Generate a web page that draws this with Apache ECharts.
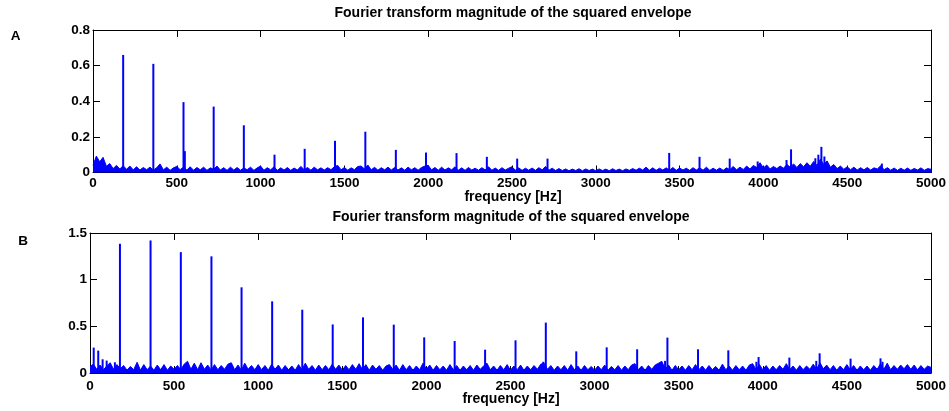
<!DOCTYPE html>
<html>
<head>
<meta charset="utf-8">
<script src="https://cdn.jsdelivr.net/npm/echarts@6/dist/echarts.min.js"></script>
<style>
html,body{margin:0;padding:0;background:#fff;}
#chart{width:949px;height:411px;}
</style>
</head>
<body>
<div id="chart"></div>
<script>
// ---------------- DATA ----------------
const panelLetters = ['A', 'B'];
const panelTitle = 'Fourier transform magnitude of the squared envelope';
const xAxisTitle = 'frequency [Hz]';
const xMin = 0, xMax = 5000, xStep = 500;
const yMaxA = 0.8, yStepA = 0.2;
const yMaxB = 1.5, yStepB = 0.5;

// noise floor, one value every 20 Hz from 0 to 5000 Hz
const noiseStepHz = 20;
const noiseA = [
  0.040, 0.092, 0.060, 0.085, 0.035, 0.050, 0.022, 0.040, 0.020, 0.038,
  0.018, 0.036, 0.015, 0.032, 0.014, 0.028, 0.016, 0.030, 0.013, 0.027,
  0.048, 0.015, 0.030, 0.012, 0.026, 0.034, 0.016, 0.030, 0.014, 0.032,
  0.013, 0.028, 0.015, 0.030, 0.012, 0.026, 0.018, 0.036, 0.014, 0.027,
  0.012, 0.030, 0.014, 0.028, 0.013, 0.025, 0.016, 0.030, 0.012, 0.026,
  0.036, 0.013, 0.027, 0.015, 0.032, 0.012, 0.026, 0.014, 0.028, 0.012,
  0.025, 0.014, 0.034, 0.016, 0.028, 0.013, 0.030, 0.015, 0.026, 0.014,
  0.027, 0.016, 0.032, 0.040, 0.015, 0.028, 0.013, 0.026, 0.016, 0.034,
  0.036, 0.020, 0.042, 0.015, 0.029, 0.013, 0.027, 0.015, 0.030, 0.014,
  0.028, 0.014, 0.026, 0.013, 0.030, 0.015, 0.027, 0.013, 0.028, 0.036,
  0.040, 0.015, 0.028, 0.013, 0.030, 0.014, 0.026, 0.015, 0.032, 0.013,
  0.026, 0.012, 0.028, 0.014, 0.024, 0.013, 0.027, 0.015, 0.032, 0.013,
  0.025, 0.012, 0.027, 0.014, 0.024, 0.032, 0.013, 0.026, 0.012, 0.024,
  0.013, 0.025, 0.012, 0.027, 0.015, 0.034, 0.013, 0.024, 0.011, 0.022,
  0.011, 0.020, 0.010, 0.019, 0.011, 0.021, 0.010, 0.020, 0.011, 0.019,
  0.010, 0.020, 0.011, 0.019, 0.010, 0.021, 0.011, 0.019, 0.010, 0.020,
  0.012, 0.022, 0.013, 0.024, 0.014, 0.030, 0.013, 0.026, 0.012, 0.024,
  0.014, 0.026, 0.013, 0.028, 0.012, 0.025, 0.014, 0.024, 0.012, 0.027,
  0.014, 0.026, 0.013, 0.030, 0.012, 0.024, 0.013, 0.025, 0.012, 0.026,
  0.016, 0.034, 0.015, 0.030, 0.017, 0.036, 0.020, 0.040, 0.028, 0.055,
  0.025, 0.042, 0.020, 0.034, 0.022, 0.036, 0.024, 0.045, 0.030, 0.048,
  0.028, 0.050, 0.032, 0.055, 0.035, 0.062, 0.040, 0.075, 0.045, 0.065,
  0.030, 0.045, 0.022, 0.036, 0.018, 0.032, 0.016, 0.030, 0.014, 0.027,
  0.015, 0.028, 0.014, 0.026, 0.020, 0.038, 0.016, 0.027, 0.013, 0.025,
  0.012, 0.024, 0.013, 0.025, 0.012, 0.023, 0.014, 0.026, 0.012, 0.022,
  0.018
];
const noiseB = [
  0.070, 0.095, 0.040, 0.085, 0.035, 0.075, 0.110, 0.040, 0.090, 0.045,
  0.080, 0.030, 0.070, 0.035, 0.115, 0.030, 0.090, 0.035, 0.075, 0.030,
  0.085, 0.035, 0.090, 0.030, 0.075, 0.040, 0.080, 0.035, 0.095, 0.125,
  0.040, 0.105, 0.035, 0.110, 0.040, 0.085, 0.030, 0.090, 0.035, 0.080,
  0.040, 0.095, 0.110, 0.035, 0.085, 0.030, 0.105, 0.040, 0.080, 0.035,
  0.090, 0.035, 0.080, 0.030, 0.095, 0.040, 0.085, 0.030, 0.080, 0.035,
  0.075, 0.030, 0.090, 0.035, 0.105, 0.040, 0.080, 0.030, 0.085, 0.035,
  0.080, 0.035, 0.095, 0.040, 0.085, 0.030, 0.080, 0.035, 0.090, 0.040,
  0.100, 0.035, 0.090, 0.030, 0.085, 0.040, 0.080, 0.030, 0.075, 0.090,
  0.040, 0.085, 0.030, 0.090, 0.035, 0.080, 0.030, 0.075, 0.035, 0.105,
  0.040, 0.085, 0.030, 0.080, 0.035, 0.075, 0.030, 0.090, 0.035, 0.080,
  0.030, 0.075, 0.035, 0.080, 0.030, 0.085, 0.040, 0.075, 0.105, 0.035,
  0.075, 0.030, 0.080, 0.035, 0.090, 0.030, 0.075, 0.035, 0.085, 0.030,
  0.075, 0.035, 0.080, 0.040, 0.095, 0.105, 0.040, 0.080, 0.030, 0.075,
  0.035, 0.080, 0.030, 0.090, 0.035, 0.075, 0.030, 0.080, 0.035, 0.070,
  0.030, 0.075, 0.035, 0.085, 0.030, 0.070, 0.035, 0.080, 0.030, 0.075,
  0.035, 0.085, 0.100, 0.035, 0.075, 0.030, 0.080, 0.040, 0.085, 0.105,
  0.125, 0.040, 0.085, 0.030, 0.080, 0.035, 0.075, 0.030, 0.080, 0.035,
  0.090, 0.035, 0.075, 0.030, 0.080, 0.035, 0.070, 0.030, 0.095, 0.035,
  0.075, 0.030, 0.080, 0.035, 0.075, 0.030, 0.085, 0.100, 0.035, 0.090,
  0.035, 0.080, 0.030, 0.075, 0.035, 0.080, 0.040, 0.100, 0.035, 0.075,
  0.030, 0.080, 0.035, 0.075, 0.040, 0.095, 0.040, 0.110, 0.045, 0.085,
  0.035, 0.080, 0.030, 0.075, 0.035, 0.090, 0.035, 0.080, 0.030, 0.075,
  0.035, 0.075, 0.030, 0.080, 0.040, 0.100, 0.040, 0.105, 0.035, 0.080,
  0.040, 0.085, 0.045, 0.090, 0.040, 0.085, 0.035, 0.080, 0.040, 0.075,
  0.060
];

// discrete spectral lines (Hz, magnitude)
const peakFreqA = [180, 360, 540, 548, 720, 900, 1083, 1263, 1444, 1625, 1807, 1987, 2169, 2350, 2531, 2712,
                   3438, 3619, 3799, 3966, 4138, 4165, 4310, 4328, 4346, 4364, 4707];
const peakAmpA  = [0.66, 0.61, 0.395, 0.12, 0.37, 0.265, 0.10, 0.133, 0.178, 0.229, 0.127, 0.112, 0.109, 0.088, 0.078, 0.078,
                   0.11, 0.088, 0.078, 0.062, 0.07, 0.13, 0.08, 0.10, 0.144, 0.09, 0.05];
const peakFreqB = [22, 49, 75, 99, 148, 178, 360, 540, 722, 901, 1083, 1262, 1443, 1623, 1806, 1987, 2168, 2349, 2530,
                   2695, 2710, 2891, 3072, 3253, 3419, 3433, 3615, 3795, 3962, 3975, 4158, 4318, 4338, 4522, 4700, 4712];
const peakAmpB  = [0.272, 0.24, 0.147, 0.133, 0.115, 1.385, 1.42, 1.295, 1.25, 0.918, 0.768, 0.678, 0.52, 0.596, 0.518, 0.382, 0.343, 0.25, 0.35,
                   0.12, 0.54, 0.232, 0.275, 0.254, 0.13, 0.379, 0.254, 0.243, 0.12, 0.171, 0.165, 0.13, 0.211, 0.154, 0.157, 0.12];

// ---------------- CHART ----------------
const FONT = '"Liberation Sans", Arial, Helvetica, sans-serif';
const BLUE = '#0000ff';
const chart = echarts.init(document.getElementById('chart'), null, {renderer: 'canvas'});

const noiseData = arr => arr.map((v, i) => [i * noiseStepHz, v]);
const peakData = (fs, as) => fs.map((f, i) => [f, as[i]]);

const grids = [
  {left: 93, right: 16, top: 30, height: 142.5},
  {left: 90, right: 16, top: 233, height: 140}
];

function xAxes(gi, margin) {
  const common = {
    type: 'value', gridIndex: gi, min: xMin, max: xMax, interval: xStep,
    axisLine: {show: true, onZero: false, lineStyle: {color: '#000', width: 1}},
    axisTick: {show: true, inside: true, length: 7, lineStyle: {color: '#000', width: 1}},
    splitLine: {show: false}
  };
  return [
    Object.assign({}, common, {position: 'bottom',
      axisLabel: {show: true, margin: margin, color: '#000', fontWeight: 'bold', fontSize: 13.5, fontFamily: FONT,
                  showMinLabel: true, showMaxLabel: true, formatter: v => String(v)}}),
    Object.assign({}, common, {position: 'top', axisLabel: {show: false}})
  ];
}
function yAxes(gi, max, step) {
  const common = {
    type: 'value', gridIndex: gi, min: 0, max: max, interval: step,
    axisLine: {show: true, onZero: false, lineStyle: {color: '#000', width: 1}},
    axisTick: {show: true, inside: true, length: 7, lineStyle: {color: '#000', width: 1}},
    splitLine: {show: false}
  };
  return [
    Object.assign({}, common, {position: 'left',
      axisLabel: {show: true, margin: 3, color: '#000', fontWeight: 'bold', fontSize: 13.5, fontFamily: FONT,
                  formatter: v => String(v)}}),
    Object.assign({}, common, {position: 'right', axisLabel: {show: false}})
  ];
}

function textEl(x, y, txt, size) {
  return {
    type: 'text', x: x, y: y, silent: true,
    style: {text: txt, fill: '#000', font: 'bold ' + size + 'px ' + FONT,
            align: 'center', verticalAlign: 'middle', textAlign: 'center', textVerticalAlign: 'middle'}
  };
}

const option = {
  animation: false,
  backgroundColor: '#fff',
  grid: grids,
  xAxis: [].concat(xAxes(0, 4), xAxes(1, 6)),
  yAxis: [].concat(yAxes(0, yMaxA, yStepA), yAxes(1, yMaxB, yStepB)),
  graphic: [
    textEl(513, 13.4, panelTitle, 14),
    textEl(513, 197, xAxisTitle, 14),
    textEl(15.5, 36, panelLetters[0], 13.5),
    textEl(511, 216.8, panelTitle, 14),
    textEl(511, 399.5, xAxisTitle, 14),
    textEl(23, 241.3, panelLetters[1], 13.5)
  ],
  series: [
    {type: 'line', xAxisIndex: 0, yAxisIndex: 0, data: noiseData(noiseA), showSymbol: false, symbol: 'none',
     lineStyle: {color: BLUE, width: 1}, areaStyle: {color: BLUE, opacity: 1}, silent: true},
    {type: 'bar', xAxisIndex: 0, yAxisIndex: 0, data: peakData(peakFreqA, peakAmpA), barWidth: 2,
     itemStyle: {color: BLUE}, silent: true},
    {type: 'line', xAxisIndex: 2, yAxisIndex: 2, data: noiseData(noiseB), showSymbol: false, symbol: 'none',
     lineStyle: {color: BLUE, width: 1}, areaStyle: {color: BLUE, opacity: 1}, silent: true},
    {type: 'bar', xAxisIndex: 2, yAxisIndex: 2, data: peakData(peakFreqB, peakAmpB), barWidth: 2,
     itemStyle: {color: BLUE}, silent: true}
  ]
};
chart.setOption(option);
</script>
</body>
</html>
